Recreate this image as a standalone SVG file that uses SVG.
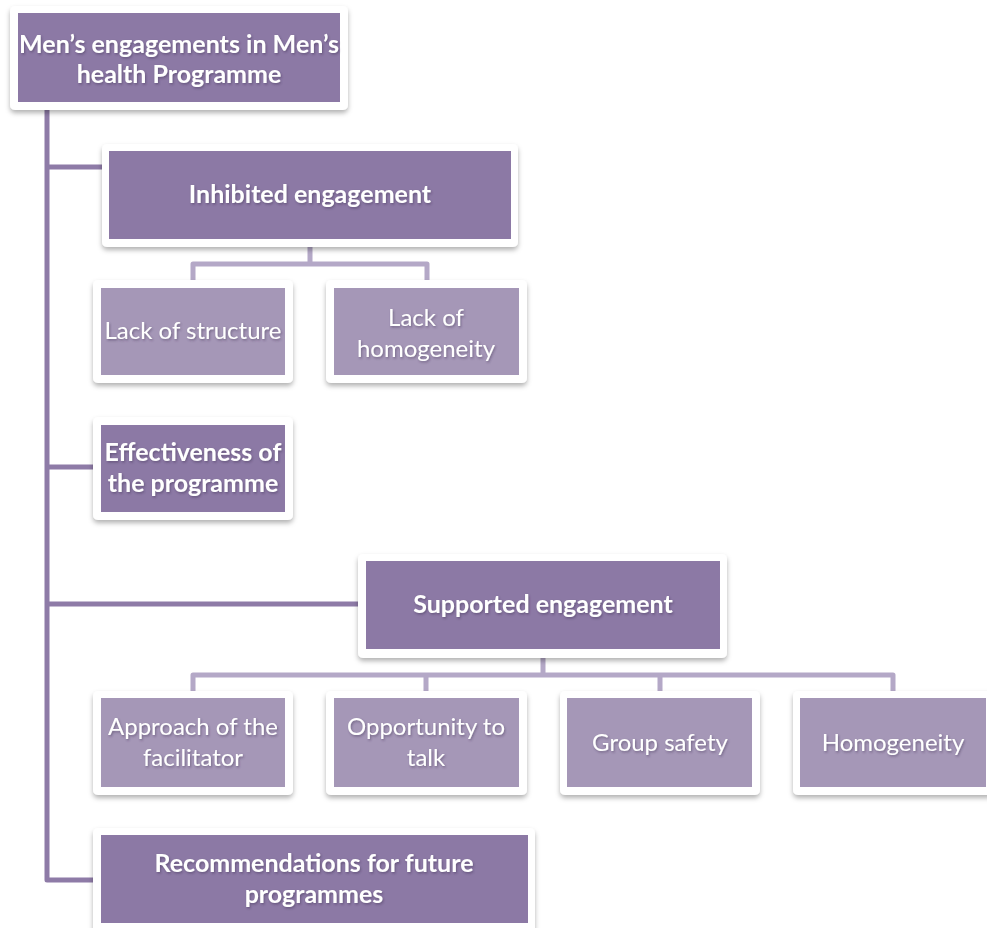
<svg xmlns="http://www.w3.org/2000/svg" width="987" height="928" viewBox="0 0 987 928">
<defs>
<filter id="sh" x="-10%" y="-10%" width="120%" height="130%">
<feDropShadow dx="0" dy="3" stdDeviation="2.5" flood-color="#000" flood-opacity="0.3"/>
</filter>
<filter id="ts" x="-5%" y="-20%" width="110%" height="150%">
<feDropShadow dx="1" dy="1.5" stdDeviation="1.2" flood-color="#3a2a50" flood-opacity="0.45"/>
</filter>
<style>
.frame{fill:#ffffff;filter:url(#sh)}
.dark{fill:#8c79a5}
.light{fill:#a597b7}
.tb{font-family:Lato,"Open Sans","Liberation Sans",sans-serif;font-weight:bold;font-size:25px;fill:#ffffff;text-anchor:middle;filter:url(#ts)}
.tr{font-family:Lato,"Open Sans","Liberation Sans",sans-serif;font-size:24px;fill:#ffffff;text-anchor:middle;filter:url(#ts)}
.main{fill:none;stroke:#8e7ba7;stroke-width:5;stroke-linejoin:round}
.sub{fill:none;stroke:#b4a8c7;stroke-width:5;stroke-linejoin:round}
</style>
</defs>
<rect width="987" height="928" fill="#ffffff"/>
<g id="connectors">
<path class="main" d="M47,105 V880 H100 M47,167 H105 M47,467 H96 M47,604 H362"/>
<path class="sub" d="M310,243 V264 M193,282 V264 H427 V282"/>
<path class="sub" d="M543,654 V675 M193,694 V675 H893 V694 M426,675 V694 M660,675 V694"/>
</g>
<g id="root">
<rect class="frame" x="10" y="6" width="338" height="104" rx="5"/>
<rect class="dark" x="18" y="13" width="322" height="89"/>
<text class="tb" x="179" y="53" textLength="320" lengthAdjust="spacingAndGlyphs">Men’s engagements in Men’s</text>
<text class="tb" x="179" y="83">health Programme</text>
</g>
<g id="inhibited">
<rect class="frame" x="102" y="144" width="416" height="103" rx="5"/>
<rect class="dark" x="109" y="151" width="402" height="88"/>
<text class="tb" x="310" y="203">Inhibited engagement</text>
</g>
<g id="lack-structure">
<rect class="frame" x="93" y="280" width="200" height="103" rx="5"/>
<rect class="light" x="101" y="288" width="184" height="87"/>
<text class="tr" x="193" y="339">Lack of structure</text>
</g>
<g id="lack-homogeneity">
<rect class="frame" x="326" y="280" width="201" height="103" rx="5"/>
<rect class="light" x="334" y="288" width="185" height="87"/>
<text class="tr" x="426" y="326">Lack of</text>
<text class="tr" x="426" y="357">homogeneity</text>
</g>
<g id="effectiveness">
<rect class="frame" x="93" y="417" width="200" height="103" rx="5"/>
<rect class="dark" x="101" y="425" width="184" height="87"/>
<text class="tb" x="193" y="461">Effectiveness of</text>
<text class="tb" x="193" y="492">the programme</text>
</g>
<g id="supported">
<rect class="frame" x="358" y="554" width="369" height="104" rx="5"/>
<rect class="dark" x="366" y="561" width="354" height="88"/>
<text class="tb" x="543" y="613">Supported engagement</text>
</g>
<g id="approach">
<rect class="frame" x="93" y="691" width="200" height="104" rx="5"/>
<rect class="light" x="101" y="698" width="184" height="89"/>
<text class="tr" x="193" y="735">Approach of the</text>
<text class="tr" x="193" y="766">facilitator</text>
</g>
<g id="opportunity">
<rect class="frame" x="326" y="691" width="201" height="104" rx="5"/>
<rect class="light" x="334" y="698" width="185" height="89"/>
<text class="tr" x="426" y="735">Opportunity to</text>
<text class="tr" x="426" y="766">talk</text>
</g>
<g id="group-safety">
<rect class="frame" x="560" y="691" width="200" height="104" rx="5"/>
<rect class="light" x="567" y="698" width="185" height="89"/>
<text class="tr" x="660" y="751">Group safety</text>
</g>
<g id="homogeneity">
<rect class="frame" x="793" y="691" width="201" height="104" rx="5"/>
<rect class="light" x="800" y="698" width="186" height="89"/>
<text class="tr" x="893" y="751">Homogeneity</text>
</g>
<g id="recommendations">
<rect class="frame" x="93" y="828" width="442" height="110" rx="5"/>
<rect class="dark" x="101" y="835" width="427" height="88"/>
<text class="tb" x="314" y="872">Recommendations for future</text>
<text class="tb" x="314" y="903">programmes</text>
</g>
</svg>
